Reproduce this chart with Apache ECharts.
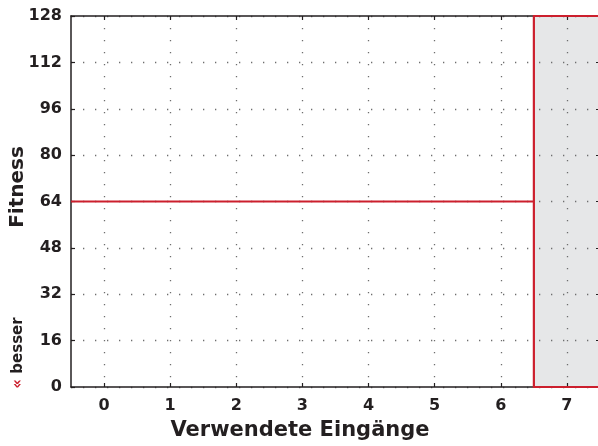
<!DOCTYPE html>
<html>
<head>
<meta charset="utf-8">
<script src="https://cdn.jsdelivr.net/npm/echarts@6/dist/echarts.min.js"></script>
<style>html,body{margin:0;padding:0;background:#fff}#c{width:598px;height:446px}</style>
</head>
<body>
<div id="c"></div>
<script>
// ---- data ----
const xCategories = [0, 1, 2, 3, 4, 5, 6, 7];
const yTicks = [0, 16, 32, 48, 64, 80, 96, 112, 128];
const fitnessLineX = [-0.5, 6.5];
const fitnessLineY = [64, 64];
const regionX = [6.5, 7.5];
const regionY = [0, 128];
const xTitle = 'Verwendete Eingänge';
const yTitle = 'Fitness';

const FONT = '"DejaVu Sans", sans-serif';
const chart = echarts.init(document.getElementById('c'));

const dotLine = { color: '#6e6e6e', width: 1.3, type: [1.3, 10.7] };
const axisLine = { show: true, onZero: false, lineStyle: { color: '#231f20', width: 1.5 } };
const xTick = { show: true, inside: true, length: 4, customValues: xCategories, lineStyle: { color: '#231f20', width: 1.2 } };
const yTick = { show: true, inside: true, length: 4, lineStyle: { color: '#231f20', width: 1.2 } };

chart.setOption({
  animation: false,
  grid: { left: 71, width: 529, top: 16, bottom: 59, containLabel: false, outerBoundsMode: 'none' },
  xAxis: [
    {
      type: 'value', min: -0.5, max: 7.5, position: 'bottom',
      axisLine: axisLine, axisTick: xTick,
      splitLine: { show: true, customValues: xCategories, lineStyle: dotLine },
      axisLabel: {
        margin: 11, color: '#231f20', fontFamily: FONT, fontWeight: 'bold', fontSize: 16,
        customValues: xCategories
      }
    },
    {
      type: 'value', min: -0.5, max: 7.5, position: 'top',
      axisLine: axisLine, axisTick: xTick, splitLine: { show: false }, axisLabel: { show: false }
    }
  ],
  yAxis: [
    {
      type: 'value', min: yTicks[0], max: yTicks[yTicks.length - 1], interval: 16, position: 'left',
      axisLine: axisLine, axisTick: yTick, splitLine: { show: true, lineStyle: dotLine },
      axisLabel: { margin: 9, color: '#231f20', fontFamily: FONT, fontWeight: 'bold', fontSize: 16 }
    },
    {
      type: 'value', min: yTicks[0], max: yTicks[yTicks.length - 1], interval: 16, position: 'right',
      axisLine: axisLine, axisTick: yTick, splitLine: { show: false }, axisLabel: { show: false }
    }
  ],
  series: [
    {
      type: 'custom', z: -1, silent: true,
      data: [[regionX[0], regionY[0], regionX[1], regionY[1]]],
      renderItem: function (params, api) {
        const p0 = api.coord([api.value(0), api.value(1)]);
        const p1 = api.coord([api.value(2), api.value(3)]);
        return { type: 'rect', shape: { x: p0[0], y: p1[1], width: p1[0] - p0[0], height: p0[1] - p1[1] },
                 style: { fill: '#e6e7e8' } };
      }
    },
    {
      type: 'custom', z: 5, silent: true,
      data: [[regionX[0], regionY[0], regionX[1], regionY[1]]],
      renderItem: function (params, api) {
        const p0 = api.coord([api.value(0), api.value(1)]);
        const p1 = api.coord([api.value(2), api.value(3)]);
        return { type: 'rect', shape: { x: p0[0], y: p1[1], width: p1[0] - p0[0], height: p0[1] - p1[1] },
                 style: { fill: null, stroke: '#cc1f2d', lineWidth: 2.2 } };
      }
    },
    {
      type: 'line', z: 4, symbol: 'none', silent: true,
      data: fitnessLineX.map((x, i) => [x, fitnessLineY[i]]),
      lineStyle: { color: '#cc1f2d', width: 2.2 }
    }
  ],
  graphic: [
    { type: 'text', x: 300, y: 431,
      style: { text: xTitle, font: 'bold 21px ' + FONT, fill: '#231f20', textAlign: 'center', textVerticalAlign: 'middle' } },
    { type: 'text', x: 18, y: 187, rotation: Math.PI / 2,
      style: { text: yTitle, font: 'bold 20px ' + FONT, fill: '#231f20', textAlign: 'center', textVerticalAlign: 'middle' } },
    { type: 'text', x: 18, y: 353, rotation: Math.PI / 2,
      style: { text: '{r|«} besser', font: 'bold 15px ' + FONT, fill: '#231f20', textAlign: 'center', textVerticalAlign: 'middle',
               rich: { r: { fill: '#cc1f2d', font: 'bold 15px ' + FONT } } } }
  ]
});
</script>
</body>
</html>
